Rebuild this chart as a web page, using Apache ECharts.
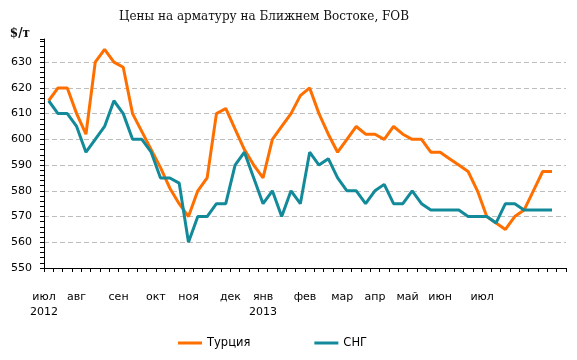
<!DOCTYPE html>
<html>
<head>
<meta charset="utf-8">
<script src="https://cdn.jsdelivr.net/npm/echarts@6/dist/echarts.min.js"></script>
<style>
html,body{margin:0;padding:0;background:#fff;}
#chart{width:577px;height:360px;}
</style>
</head>
<body>
<div id="chart"></div>
<script>
// Weekly categories, Jul 2012 – Jul 2013 (last slot empty)
const weeks = [];
(function(){
  const d = new Date(2012, 6, 6);
  for (let i = 0; i < 56; i++) {
    const t = new Date(d.getTime() + i * 7 * 86400000);
    weeks.push(t.getFullYear() + '-' + String(t.getMonth() + 1).padStart(2, '0') + '-' + String(t.getDate()).padStart(2, '0'));
  }
})();

const turkey = [615,620,620,610,602,630,635,630,628,610,
                603,596,589,581,575,570,580,585,610,612,
                604,596,590,585,600,605,610,617,620,610,
                602,595,600,605,602,602,600,605,602,600,
                600,595,595,592.5,590,587.5,580,570,567.5,565,
                570,572.5,580,587.5,587.5,null];

const cis = [615,610,610,605,595,600,605,615,610,600,
             600,595,585,585,583,560,570,570,575,575,
             590,595,585,575,580,570,580,575,595,590,
             592.5,585,580,580,575,580,582.5,575,575,580,
             575,572.5,572.5,572.5,572.5,570,570,570,567.5,575,
             575,572.5,572.5,572.5,572.5,null];

// Month tick labels and the half-week slot each one sits on
const monthNames = ['июл\n2012','авг','сен','окт','ноя','дек','янв\n2013','фев','мар','апр','май','июн','июл'];
const monthSlots = [0,7,16,24,31,40,47,56,64,71,78,85,94];

const slotLabels = new Array(weeks.length * 2 + 1).fill('');
monthSlots.forEach((s, k) => { slotLabels[s] = monthNames[k]; });

const chart = echarts.init(document.getElementById('chart'), null, {renderer: 'canvas'});
chart.setOption({
  animation: false,
  backgroundColor: '#fff',
  title: {
    text: 'Цены на арматуру на Ближнем Востоке, FOB',
    left: 114, top: 6,
    textStyle: {fontFamily: 'DejaVu Serif', fontSize: 12, fontWeight: 'normal', color: '#111'}
  },
  legend: {
    left: 178, top: 337, padding: 0,
    icon: 'rect', itemWidth: 24, itemHeight: 3, itemGap: 64,
    textStyle: {fontFamily: 'DejaVu Sans', fontSize: 11.5, color: '#000'},
    data: ['Турция', 'СНГ']
  },
  grid: {left: 44, right: 11, top: 39, bottom: 92},
  xAxis: [{
    type: 'category',
    data: weeks,
    boundaryGap: true,
    axisLine: {lineStyle: {color: '#000', width: 1}},
    axisTick: {show: true, interval: 0, length: 4, lineStyle: {color: '#000'}},
    axisLabel: {show: false},
    splitLine: {show: false}
  }, {
    type: 'category',
    data: slotLabels,
    boundaryGap: false,
    position: 'bottom',
    axisLine: {show: false},
    axisTick: {show: false},
    axisLabel: {interval: 0, margin: 22, fontFamily: 'DejaVu Sans', fontSize: 11, lineHeight: 15, color: '#000'},
    splitLine: {show: false}
  }],
  yAxis: {
    type: 'value',
    min: 550, max: 639, interval: 10,
    name: '$/т',
    nameLocation: 'end',
    nameGap: -1,
    nameTextStyle: {fontFamily: 'DejaVu Serif', fontSize: 12, fontWeight: 'bold', color: '#111', align: 'right', padding: [0, 14, 0, 0]},
    axisLine: {show: true, lineStyle: {color: '#000', width: 1}},
    axisTick: {show: true, length: 4, lineStyle: {color: '#000'}},
    minorTick: {show: true, splitNumber: 5, length: 4, lineStyle: {color: '#000'}},
    axisLabel: {showMaxLabel: false, margin: 12, fontFamily: 'DejaVu Sans', fontSize: 11, color: '#000'},
    splitLine: {show: true, showMinLine: false, showMaxLine: false, lineStyle: {color: '#bdbdbd', type: [5, 3], width: 1}}
  },
  series: [{
    name: 'Турция', type: 'line', xAxisIndex: 0,
    data: turkey, symbol: 'none', connectNulls: false,
    lineStyle: {color: '#ff6f00', width: 3}, itemStyle: {color: '#ff6f00'}
  }, {
    name: 'СНГ', type: 'line', xAxisIndex: 0,
    data: cis, symbol: 'none', connectNulls: false,
    lineStyle: {color: '#138a9a', width: 3}, itemStyle: {color: '#138a9a'}
  }]
});
</script>
</body>
</html>
